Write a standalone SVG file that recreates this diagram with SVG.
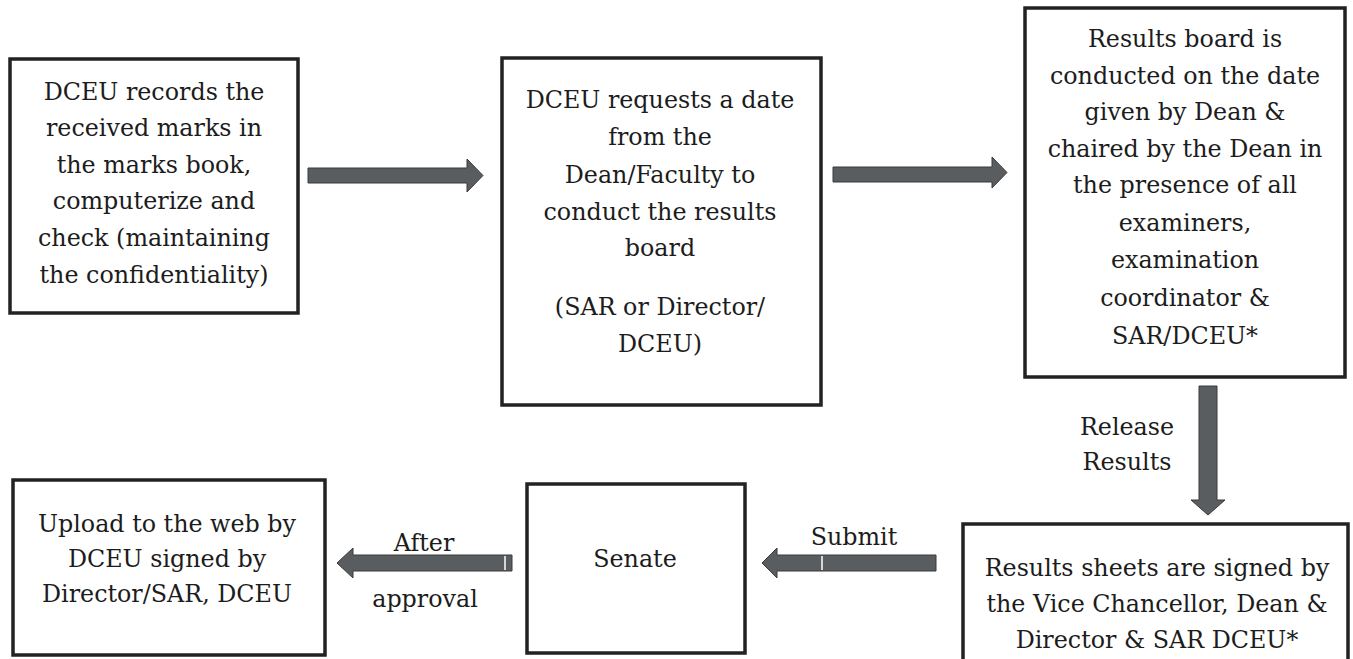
<svg xmlns="http://www.w3.org/2000/svg" width="1353" height="659" viewBox="0 0 1353 659">
  <style>
    .box { fill: #ffffff; stroke: #222222; stroke-width: 3.5; }
    .t { font-family: "DejaVu Serif", "Liberation Serif", serif; font-size: 23.8px; fill: #1c1c1c; text-anchor: middle; }
    .arrow { fill: #5a5d60; stroke: #3a3a3a; stroke-width: 1; }
    .nick { stroke: #ffffff; stroke-width: 1.5; }
  </style>
  <rect width="1353" height="659" fill="#ffffff"/>

  <!-- connectors: block arrows -->
  <g id="connectors">
    <!-- records -> request date -->
    <path class="arrow" d="M308,168 H467 V159 L483,175.5 L467,192 V183 H308 Z"/>
    <!-- request date -> results board -->
    <path class="arrow" d="M833,167 H992 V157 L1007,172.5 L992,188 V182 H833 Z"/>
    <!-- results board -> results sheets -->
    <path class="arrow" d="M1199,386 H1217 V500 H1225 L1208,515 L1191,500 H1199 Z"/>
    <!-- results sheets -> senate -->
    <path class="arrow" d="M936,555 H777 V548 L762,563 L777,578 V571 H936 Z"/>
    <line class="nick" x1="822" y1="556" x2="822" y2="570"/>
    <!-- senate -> upload -->
    <path class="arrow" d="M512,555 H353 V548 L337,563 L353,578 V571 H512 Z"/>
    <line class="nick" x1="505" y1="556" x2="505" y2="570"/>
  </g>

  <!-- connector labels -->
  <g id="labels">
    <text class="t" x="1127" y="435">Release</text>
    <text class="t" x="1127" y="470">Results</text>
    <text class="t" x="854" y="545">Submit</text>
    <text class="t" x="424" y="551">After</text>
    <text class="t" x="425" y="607">approval</text>
  </g>

  <g id="record-marks">
    <rect class="box" x="10" y="59" width="288" height="254"/>
    <text class="t" x="154" y="100">DCEU records the</text>
    <text class="t" x="154" y="136">received marks in</text>
    <text class="t" x="154" y="173">the marks book,</text>
    <text class="t" x="154" y="209">computerize and</text>
    <text class="t" x="154" y="246">check (maintaining</text>
    <text class="t" x="154" y="283">the confidentiality)</text>
  </g>

  <g id="request-date">
    <rect class="box" x="502" y="58" width="319" height="347"/>
    <text class="t" x="660" y="108">DCEU requests a date</text>
    <text class="t" x="660" y="145">from the</text>
    <text class="t" x="660" y="183">Dean/Faculty to</text>
    <text class="t" x="660" y="220">conduct the results</text>
    <text class="t" x="660" y="256">board</text>
    <text class="t" x="660" y="315">(SAR or Director/</text>
    <text class="t" x="660" y="352">DCEU)</text>
  </g>

  <g id="results-board">
    <rect class="box" x="1025" y="8" width="320" height="369"/>
    <text class="t" x="1185" y="47">Results board is</text>
    <text class="t" x="1185" y="84">conducted on the date</text>
    <text class="t" x="1185" y="120">given by Dean &amp;</text>
    <text class="t" x="1185" y="157">chaired by the Dean in</text>
    <text class="t" x="1185" y="193">the presence of all</text>
    <text class="t" x="1185" y="231">examiners,</text>
    <text class="t" x="1185" y="268">examination</text>
    <text class="t" x="1185" y="306">coordinator &amp;</text>
    <text class="t" x="1185" y="344">SAR/DCEU*</text>
  </g>

  <g id="results-sheets">
    <rect class="box" x="963" y="524" width="385" height="150"/>
    <text class="t" x="1157" y="576">Results sheets are signed by</text>
    <text class="t" x="1157" y="612">the Vice Chancellor, Dean &amp;</text>
    <text class="t" x="1157" y="648">Director &amp; SAR DCEU*</text>
  </g>

  <g id="senate">
    <rect class="box" x="527" y="484" width="218" height="169"/>
    <text class="t" x="635" y="567">Senate</text>
  </g>

  <g id="upload">
    <rect class="box" x="13" y="480" width="312" height="175"/>
    <text class="t" x="167" y="532">Upload to the web by</text>
    <text class="t" x="167" y="567">DCEU signed by</text>
    <text class="t" x="167" y="602">Director/SAR, DCEU</text>
  </g>
</svg>
